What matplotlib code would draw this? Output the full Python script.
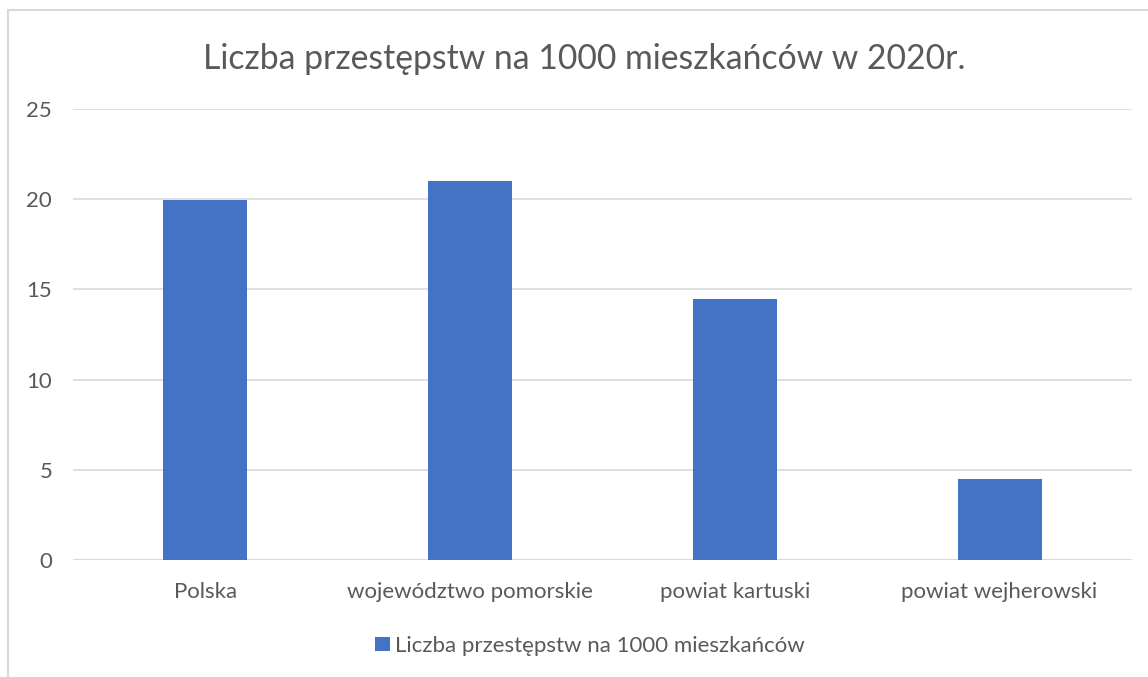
import matplotlib.pyplot as plt
from matplotlib.patches import Rectangle

kategorie = ["Polska", "województwo pomorskie", "powiat kartuski", "powiat wejherowski"]
wartosci = [19.95, 21.0, 14.47, 4.5]
seria = "Liczba przestępstw na 1000 mieszkańców"
tytul = "Liczba przestępstw na 1000 mieszkańców w 2020r."

plt.rcParams['font.family'] = ['Lato', 'DejaVu Sans']
szary = "#595959"

fig = plt.figure(figsize=(11.48, 6.77), dpi=100)
ax = fig.add_axes([0.0636, 0.1728, 0.9224, 0.6662])

ax.bar(range(len(kategorie)), wartosci, width=0.317, color="#4472C4", label=seria, zorder=3)
ax.set_xlim(-0.5, len(kategorie) - 0.5)
ax.set_ylim(0, 25)
ax.set_yticks([0, 5, 10, 15, 20, 25])
ax.set_xticks(range(len(kategorie)))
ax.set_xticklabels(kategorie)
ax.tick_params(axis="both", length=0, labelsize=16, labelcolor=szary)
ax.tick_params(axis="x", pad=16)
ax.tick_params(axis="y", pad=15)
ax.grid(axis="y", color="#D9D9D9", linewidth=1.2, zorder=0)
for s in ax.spines.values():
    s.set_visible(False)
ax.axhline(0, color="#D9D9D9", linewidth=1.2, zorder=1)

fig.text(0.509, 0.913, tytul, ha="center", va="center", fontsize=24.3, color=szary)
fig.legend(loc="center", bbox_to_anchor=(0.514, 0.046), frameon=False, fontsize=16,
           labelcolor=szary, handlelength=0.65, handleheight=0.65, handletextpad=0.25)

# ramka wykresu
fig.patches.append(Rectangle((8 / 1148, -0.01), 1.0, 1 - 10 / 677 + 0.01, transform=fig.transFigure,
                             fill=False, edgecolor="#D9D9D9", linewidth=1.5))

fig.savefig("out.png", dpi=100)
